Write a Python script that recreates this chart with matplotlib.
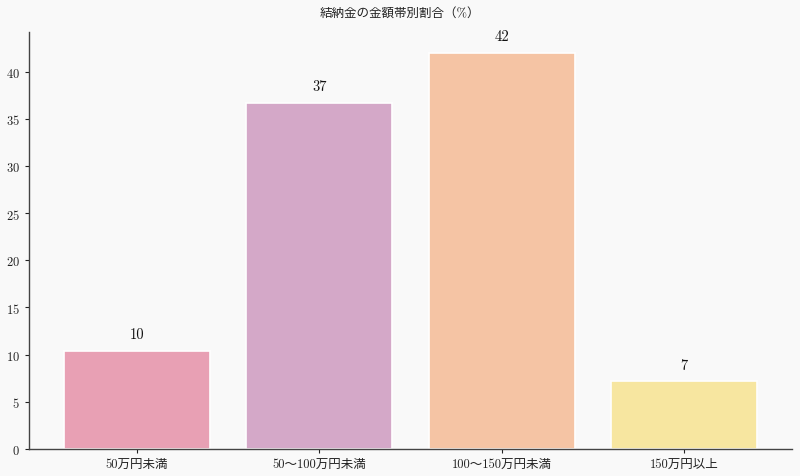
import matplotlib
matplotlib.use("Agg")
import matplotlib.pyplot as plt

categories = ["50万円未満", "50～100万円未満", "100～150万円未満", "150万円以上"]
values = [10.4, 36.7, 42.0, 7.2]
labels = ["10", "37", "42", "7"]
colors = ["#E8A0B4", "#D4A8C8", "#F5C4A4", "#F7E6A0"]
title = "結納金の金額帯別割合（%）"

plt.rcParams['font.family'] = ['cmr10', 'Noto Sans CJK JP', 'DejaVu Sans']
plt.rcParams['axes.formatter.use_mathtext'] = True

fig = plt.figure(figsize=(8, 4.77), dpi=100, facecolor="#F9F9F9")
ax = fig.add_axes([0.03625, 0.0566, 0.95375, 0.8742])
ax.set_facecolor("#F9F9F9")

x = list(range(len(categories)))
bars = ax.bar(x, values, width=0.8, color=colors, edgecolor="white", linewidth=1.2)
for xi, v, lab in zip(x, values, labels):
    ax.text(xi, v + 1.0, lab, ha="center", va="bottom", fontsize=10.5, color="#111111")

ax.set_xticks(x)
ax.set_xticklabels(categories, fontsize=9, color="#222222")
ax.set_xlim(-0.59, 3.59)
ax.set_ylim(0, 44.2)
ax.set_yticks([0, 5, 10, 15, 20, 25, 30, 35, 40])
ax.tick_params(axis="y", labelsize=9, colors="#222222", length=3)
ax.tick_params(axis="x", length=3, colors="#222222")
for s in ["top", "right"]:
    ax.spines[s].set_visible(False)
for s in ["left", "bottom"]:
    ax.spines[s].set_color("#444444")
    ax.spines[s].set_linewidth(1.0)

fig.text(0.5, 0.972, title, ha="center", va="center", fontsize=9, color="#222222")

fig.savefig("out.png", dpi=100, facecolor=fig.get_facecolor())
